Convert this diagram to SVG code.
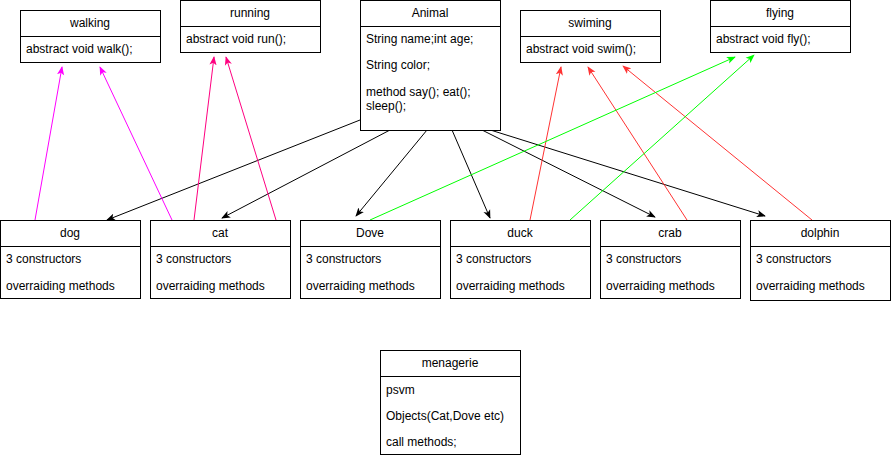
<svg xmlns="http://www.w3.org/2000/svg" width="891" height="458" viewBox="0 0 891 458">
<style>
.box{fill:#fff;stroke:#000;stroke-width:1}
.sep{stroke:#000;stroke-width:1}
text{font-family:"Liberation Sans",Arial,sans-serif;font-size:12px;fill:#000}
.h{text-anchor:middle}
.c{fill:none;stroke-width:1}
</style>
<defs>
<marker id="aK" viewBox="0 0 10 8" refX="9" refY="4" markerWidth="9" markerHeight="8" markerUnits="userSpaceOnUse" orient="auto"><path d="M0,0 L10,4 L0,8 L2.5,4 z" fill="#000"/></marker>
<marker id="aM" viewBox="0 0 10 8" refX="9" refY="4" markerWidth="9" markerHeight="8" markerUnits="userSpaceOnUse" orient="auto"><path d="M0,0 L10,4 L0,8 L2.5,4 z" fill="#FF00FF"/></marker>
<marker id="aP" viewBox="0 0 10 8" refX="9" refY="4" markerWidth="9" markerHeight="8" markerUnits="userSpaceOnUse" orient="auto"><path d="M0,0 L10,4 L0,8 L2.5,4 z" fill="#FF0080"/></marker>
<marker id="aR" viewBox="0 0 10 8" refX="9" refY="4" markerWidth="9" markerHeight="8" markerUnits="userSpaceOnUse" orient="auto"><path d="M0,0 L10,4 L0,8 L2.5,4 z" fill="#FF3333"/></marker>
<marker id="aG" viewBox="0 0 10 8" refX="9" refY="4" markerWidth="9" markerHeight="8" markerUnits="userSpaceOnUse" orient="auto"><path d="M0,0 L10,4 L0,8 L2.5,4 z" fill="#00FF00"/></marker>
</defs>

<g id="connectors">
<line class="c" x1="360" y1="120" x2="107" y2="220" stroke="#000" marker-end="url(#aK)"/>
<line class="c" x1="390" y1="130" x2="222" y2="218" stroke="#000" marker-end="url(#aK)"/>
<line class="c" x1="427" y1="130" x2="356" y2="216" stroke="#000" marker-end="url(#aK)"/>
<line class="c" x1="452" y1="130" x2="490" y2="218" stroke="#000" marker-end="url(#aK)"/>
<line class="c" x1="482" y1="130" x2="655" y2="217" stroke="#000" marker-end="url(#aK)"/>
<line class="c" x1="484" y1="128" x2="765" y2="216" stroke="#000" marker-end="url(#aK)"/>
<line class="c" x1="35" y1="220" x2="62" y2="67" stroke="#FF00FF" marker-end="url(#aM)"/>
<line class="c" x1="172" y1="220" x2="100" y2="67" stroke="#FF00FF" marker-end="url(#aM)"/>
<line class="c" x1="194" y1="220" x2="214" y2="57" stroke="#FF0080" marker-end="url(#aP)"/>
<line class="c" x1="276" y1="220" x2="226" y2="57" stroke="#FF0080" marker-end="url(#aP)"/>
<line class="c" x1="530" y1="220" x2="561" y2="67" stroke="#FF3333" marker-end="url(#aR)"/>
<line class="c" x1="687" y1="220" x2="588" y2="67" stroke="#FF3333" marker-end="url(#aR)"/>
<line class="c" x1="812" y1="220" x2="623" y2="66" stroke="#FF3333" marker-end="url(#aR)"/>
<line class="c" x1="370" y1="220" x2="735" y2="57" stroke="#00FF00" marker-end="url(#aG)"/>
<line class="c" x1="570" y1="220" x2="754" y2="55" stroke="#00FF00" marker-end="url(#aG)"/>
</g>

<g id="walking">
<rect class="box" x="20.5" y="10.5" width="140" height="52"/>
<line class="sep" x1="20.5" y1="36.5" x2="160.5" y2="36.5"/>
<text class="h" x="90" y="27">walking</text>
<text x="26" y="53">abstract void walk();</text>
</g>
<g id="running">
<rect class="box" x="180.5" y="0.5" width="140" height="52"/>
<line class="sep" x1="180.5" y1="26.5" x2="320.5" y2="26.5"/>
<text class="h" x="250" y="17">running</text>
<text x="186" y="43">abstract void run();</text>
</g>
<g id="animal">
<rect class="box" x="360.5" y="0.5" width="140" height="130"/>
<line class="sep" x1="360.5" y1="26.5" x2="500.5" y2="26.5"/>
<text class="h" x="430" y="17">Animal</text>
<text x="366" y="43">String name;int age;</text>
<text x="366" y="69">String color;</text>
<text x="366" y="96">method say(); eat();</text>
<text x="366" y="110">sleep();</text>
</g>
<g id="swiming">
<rect class="box" x="520.5" y="10.5" width="140" height="52"/>
<line class="sep" x1="520.5" y1="36.5" x2="660.5" y2="36.5"/>
<text class="h" x="590" y="27">swiming</text>
<text x="526" y="53">abstract void swim();</text>
</g>
<g id="flying">
<rect class="box" x="710.5" y="0.5" width="140" height="52"/>
<line class="sep" x1="710.5" y1="26.5" x2="850.5" y2="26.5"/>
<text class="h" x="780" y="17">flying</text>
<text x="716" y="43">abstract void fly();</text>
</g>

<g id="dog">
<rect class="box" x="0.5" y="220.5" width="140" height="78"/>
<line class="sep" x1="0.5" y1="246.5" x2="140.5" y2="246.5"/>
<text class="h" x="70" y="237">dog</text>
<text x="6" y="263">3 constructors</text>
<text x="6" y="290">overraiding methods</text>
</g>
<g id="cat">
<rect class="box" x="150.5" y="220.5" width="140" height="78"/>
<line class="sep" x1="150.5" y1="246.5" x2="290.5" y2="246.5"/>
<text class="h" x="220" y="237">cat</text>
<text x="156" y="263">3 constructors</text>
<text x="156" y="290">overraiding methods</text>
</g>
<g id="dove">
<rect class="box" x="300.5" y="220.5" width="140" height="78"/>
<line class="sep" x1="300.5" y1="246.5" x2="440.5" y2="246.5"/>
<text class="h" x="370" y="237">Dove</text>
<text x="306" y="263">3 constructors</text>
<text x="306" y="290">overraiding methods</text>
</g>
<g id="duck">
<rect class="box" x="450.5" y="220.5" width="140" height="78"/>
<line class="sep" x1="450.5" y1="246.5" x2="590.5" y2="246.5"/>
<text class="h" x="520" y="237">duck</text>
<text x="456" y="263">3 constructors</text>
<text x="456" y="290">overraiding methods</text>
</g>
<g id="crab">
<rect class="box" x="600.5" y="220.5" width="140" height="78"/>
<line class="sep" x1="600.5" y1="246.5" x2="740.5" y2="246.5"/>
<text class="h" x="670" y="237">crab</text>
<text x="606" y="263">3 constructors</text>
<text x="606" y="290">overraiding methods</text>
</g>
<g id="dolphin">
<rect class="box" x="750.5" y="220.5" width="140" height="80"/>
<line class="sep" x1="750.5" y1="246.5" x2="890.5" y2="246.5"/>
<text class="h" x="820" y="237">dolphin</text>
<text x="756" y="263">3 constructors</text>
<text x="756" y="290">overraiding methods</text>
</g>

<g id="menagerie">
<rect class="box" x="380.5" y="350.5" width="140" height="104"/>
<line class="sep" x1="380.5" y1="376.5" x2="520.5" y2="376.5"/>
<text class="h" x="450" y="367">menagerie</text>
<text x="386" y="394">psvm</text>
<text x="386" y="420">Objects(Cat,Dove etc)</text>
<text x="386" y="446">call methods;</text>
</g>
</svg>
